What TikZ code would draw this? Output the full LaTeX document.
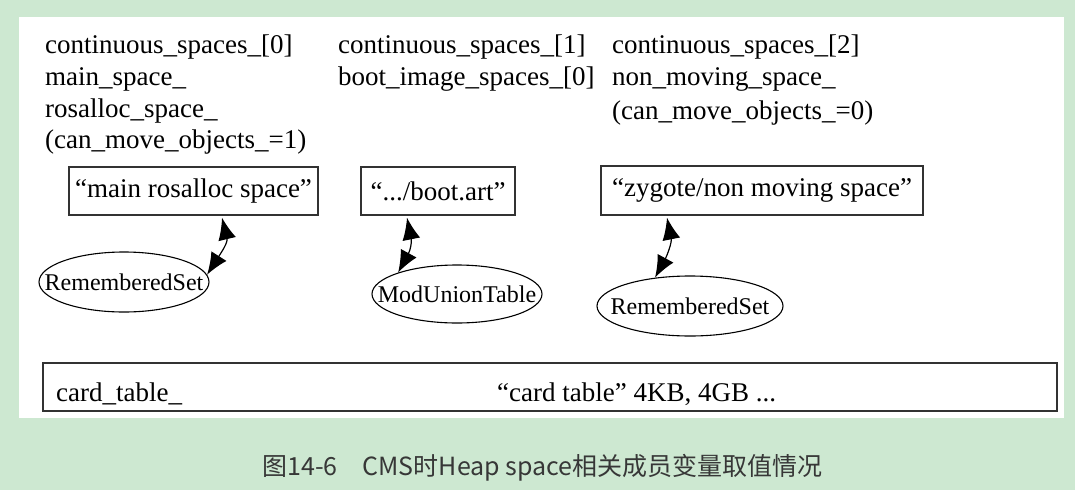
\documentclass[tikz,border=0pt]{standalone}
\usepackage{fontspec}
\setmainfont{Liberation Serif}
\newfontfamily\cjk{Noto Sans CJK SC}
\usetikzlibrary{shapes.geometric,arrows.meta}
\definecolor{bggreen}{RGB}{205,232,209}
\definecolor{capgray}{RGB}{55,55,55}
\definecolor{boxline}{RGB}{50,50,50}
\tikzset{
  lbl/.style={anchor=base west,inner sep=0pt,font=\fontsize{27}{32}\selectfont},
  spacebox/.style={draw=boxline,line width=1.3pt,inner sep=0pt,font=\fontsize{27}{32}\selectfont},
  setell/.style={ellipse,draw=black,line width=1.1pt,inner sep=0pt,font=\fontsize{24}{28}\selectfont},
  bighead/.tip={Latex[length=22pt,width=18pt]},
  link/.style={line width=1.2pt,bighead-bighead}
}
\begin{document}
\begin{tikzpicture}[x=1pt,y=-1pt]
\useasboundingbox (0,0) rectangle (1075,490);
\fill[bggreen] (0,0) rectangle (1075,490);
\fill[white] (19,17) rectangle (1064,418);
% column 1
\node[lbl] (c0a) at (45,53) {continuous\_spaces\_[0]};
\node[lbl] (c0b) at (45,85) {main\_space\_};
\node[lbl] (c0c) at (45,117) {rosalloc\_space\_};
\node[lbl] (c0d) at (45,148) {(can\_move\_objects\_=1)};
% column 2
\node[lbl] (c1a) at (338,53) {continuous\_spaces\_[1]};
\node[lbl] (c1b) at (338,85) {boot\_image\_spaces\_[0]};
% column 3
\node[lbl] (c2a) at (612,53) {continuous\_spaces\_[2]};
\node[lbl] (c2b) at (612,85) {non\_moving\_space\_};
\node[lbl] (c2c) at (612,119) {(can\_move\_objects\_=0)};
% boxes
\node[spacebox,minimum width=249pt,minimum height=48pt] (b1) at (193.5,191) {“main rosalloc space”};
\node[spacebox,minimum width=154pt,minimum height=48pt] (b2) at (438,191) {“.../boot.art”};
\node[spacebox,minimum width=322pt,minimum height=49pt] (b3) at (762,190.5) {“zygote/non moving space”};
% ellipses
\node[setell,minimum width=170pt,minimum height=60pt] (e1) at (124,282) {\makebox[0pt]{RememberedSet}};
\node[setell,minimum width=170pt,minimum height=58pt] (e2) at (457,294) {\makebox[0pt]{ModUnionTable}};
\node[setell,minimum width=186pt,minimum height=60pt] (e3) at (690,306) {\makebox[0pt]{RememberedSet}};
% links
\draw[link] ([xshift=28.5pt,yshift=-2pt]b1.south) .. controls +(6,25) and +(14,-22) .. (e1.5);
\draw[link] ([xshift=-31pt,yshift=-2pt]b2.south) .. controls +(5,25) and +(12,-22) .. (e2.160);
\draw[link] ([xshift=-95pt,yshift=-2pt]b3.south) .. controls +(5,25) and +(12,-22) .. (e3.141);
% card table
\node[spacebox,minimum width=1014pt,minimum height=48pt] (ct) at (550,387) {};
\node[lbl] (ctl) at (56,401) {card\_table\_};
\node[lbl] (ctv) at (497,401) {“card table” 4KB, 4GB ...};
% caption
\node[anchor=base,inner sep=0pt,text=capgray,font=\cjk\fontsize{25}{30}\selectfont] (cap) at (542.5,475) {图14-6　CMS时Heap space相关成员变量取值情况};
\end{tikzpicture}
\end{document}
